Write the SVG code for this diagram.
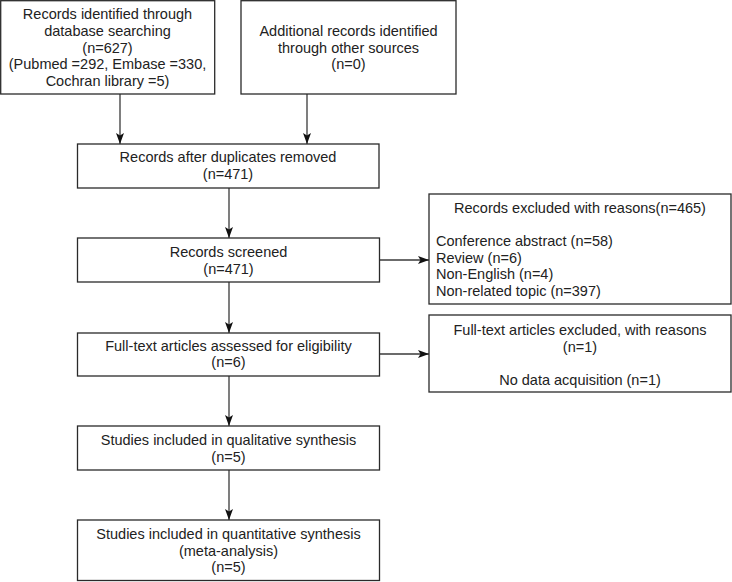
<svg xmlns="http://www.w3.org/2000/svg" width="732" height="582" viewBox="0 0 732 582">
<style>
.box{fill:#fff;stroke:#2a2a2a;stroke-width:1.3}
.t{font-family:"Liberation Sans",Arial,Helvetica,sans-serif;font-size:14.5px;fill:#222}
.c{text-anchor:middle}
.ln{stroke:#3a3a3a;stroke-width:1.3;fill:none}
</style>
<defs>
<marker id="ah" markerUnits="userSpaceOnUse" markerWidth="12" markerHeight="9" refX="11" refY="4.5" orient="auto">
<path d="M0,0.5 L11,4.5 L0,8.5 L2.5,4.5 z" fill="#111"/>
</marker>
</defs>
<rect width="732" height="582" fill="#fff"/>
<g id="connectors">
<line class="ln" x1="120" y1="94" x2="120" y2="144" marker-end="url(#ah)"/>
<line class="ln" x1="307" y1="94" x2="307" y2="144" marker-end="url(#ah)"/>
<line class="ln" x1="229" y1="188" x2="229" y2="238" marker-end="url(#ah)"/>
<line class="ln" x1="229" y1="282" x2="229" y2="333" marker-end="url(#ah)"/>
<line class="ln" x1="229" y1="376" x2="229" y2="426" marker-end="url(#ah)"/>
<line class="ln" x1="229" y1="470" x2="229" y2="520" marker-end="url(#ah)"/>
<line class="ln" x1="380" y1="260" x2="429" y2="260" marker-end="url(#ah)"/>
<line class="ln" x1="380" y1="354" x2="429" y2="354" marker-end="url(#ah)"/>
</g>
<g id="n1">
<rect class="box" x="0.7" y="0.7" width="214" height="93.3"/>
<text class="t c" x="107.5" y="19">Records identified through</text>
<text class="t c" x="107.5" y="36">database searching</text>
<text class="t c" x="107.5" y="53">(n=627)</text>
<text class="t c" x="107.5" y="69">(Pubmed =292, Embase =330,</text>
<text class="t c" x="107.5" y="86">Cochran library =5)</text>
</g>
<g id="n2">
<rect class="box" x="241" y="0.7" width="215" height="93.3"/>
<text class="t c" x="348.5" y="36">Additional records identified</text>
<text class="t c" x="348.5" y="53">through other sources</text>
<text class="t c" x="348.5" y="69">(n=0)</text>
</g>
<g id="n3">
<rect class="box" x="77.5" y="144" width="301.5" height="44"/>
<text class="t c" x="228" y="162">Records after duplicates removed</text>
<text class="t c" x="228" y="179">(n=471)</text>
</g>
<g id="n4">
<rect class="box" x="77.5" y="238" width="302" height="44"/>
<text class="t c" x="228.5" y="257">Records screened</text>
<text class="t c" x="228.5" y="274">(n=471)</text>
</g>
<g id="n5">
<rect class="box" x="429" y="194" width="302" height="110"/>
<text class="t c" x="580" y="213">Records excluded with reasons(n=465)</text>
<text class="t" x="436" y="246">Conference abstract (n=58)</text>
<text class="t" x="436" y="263">Review (n=6)</text>
<text class="t" x="436" y="279">Non-English (n=4)</text>
<text class="t" x="436" y="296">Non-related topic (n=397)</text>
</g>
<g id="n6">
<rect class="box" x="77.5" y="333" width="302" height="43"/>
<text class="t c" x="228.5" y="351">Full-text articles assessed for eligibility</text>
<text class="t c" x="228.5" y="367">(n=6)</text>
</g>
<g id="n7">
<rect class="box" x="429" y="315" width="302" height="77"/>
<text class="t c" x="580" y="335">Full-text articles excluded, with reasons</text>
<text class="t c" x="580" y="352">(n=1)</text>
<text class="t c" x="580" y="385">No data acquisition (n=1)</text>
</g>
<g id="n8">
<rect class="box" x="77.5" y="426" width="302" height="44"/>
<text class="t c" x="228.5" y="445">Studies included in qualitative synthesis</text>
<text class="t c" x="228.5" y="462">(n=5)</text>
</g>
<g id="n9">
<rect class="box" x="77.5" y="520" width="302" height="60.5"/>
<text class="t c" x="228.5" y="539">Studies included in quantitative synthesis</text>
<text class="t c" x="228.5" y="556">(meta-analysis)</text>
<text class="t c" x="228.5" y="572">(n=5)</text>
</g>
</svg>
